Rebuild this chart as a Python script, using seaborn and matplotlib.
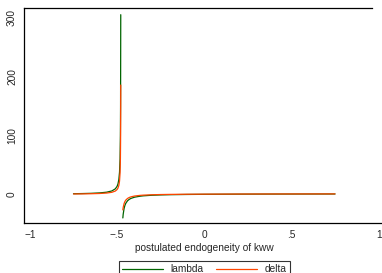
import pandas as pd
import seaborn as sns
import matplotlib.pyplot as plt

# postulated endogeneity of kww (x) and the two estimates, split at the pole
x_left = [-0.75, -0.70, -0.65, -0.60, -0.56, -0.53, -0.51, -0.50, -0.495,
          -0.49, -0.486, -0.483, -0.481, -0.480, -0.479]
x_right = [-0.467, -0.465, -0.46, -0.455, -0.45, -0.44, -0.43, -0.42, -0.40,
           -0.37, -0.35, -0.30, -0.25, -0.20, -0.10, 0.0, 0.20, 0.40, 0.60, 0.75]

lambda_left = [1.1, 1.35, 1.74, 2.46, 3.66, 5.77, 9.4, 13.6, 17.6,
               25, 37.5, 60, 100, 150, 304]
lambda_right = [-39.9, -33.6, -24, -18.6, -15.1, -10.8, -8.4, -6.8, -4.8,
                -3.2, -2.5, -1.5, -0.97, -0.6, -0.19, 0.06, 0.34, 0.49, 0.58, 0.63]

delta_left = [0.66, 0.81, 1.05, 1.48, 2.2, 3.46, 5.6, 8.2, 10.6,
              15, 22.5, 36, 60, 90, 185]
delta_right = [-26.3, -22.1, -15.7, -12.0, -9.7, -6.9, -5.25, -4.17, -2.85,
               -1.78, -1.34, -0.69, -0.31, -0.08, 0.21, 0.37, 0.56, 0.66, 0.72, 0.76]

rows = []
for name, left, right in [("lambda", lambda_left, lambda_right),
                          ("delta", delta_left, delta_right)]:
    for xv, yv in zip(x_left, left):
        rows.append((name, "left", xv, yv))
    for xv, yv in zip(x_right, right):
        rows.append((name, "right", xv, yv))
df = pd.DataFrame(rows, columns=["series", "branch", "x", "y"])

sns.set_style("white")
plt.rcParams['font.family'] = ['Liberation Sans', 'DejaVu Sans']

fig = plt.figure(figsize=(3.82, 2.73), dpi=100)
ax = fig.add_axes([0.0628, 0.182, 0.942, 0.788])

sns.lineplot(data=df, x="x", y="y", hue="series", units="branch",
             estimator=None, sort=False, linewidth=0.9,
             palette={"lambda": "#006400", "delta": "#FF4500"},
             legend=False, ax=ax)

ax.set_xlim(-1.034, 1.030)
ax.set_ylim(-49, 315)
ax.set_xticks([-1, -0.5, 0, 0.5, 1])
ax.set_xticklabels(["\u22121", "\u2212.5", "0", ".5", "1"])
ax.set_yticks([0, 100, 200, 300])
ax.set_yticklabels(["0", "100", "200", "300"], rotation=90, va="center")
ax.tick_params(axis="both", direction="out", length=3, width=0.8,
               labelsize=7.3, pad=2, color="black")
ax.set_xlabel("postulated endogeneity of kww", fontsize=7.3, labelpad=2)
ax.set_ylabel("")
for sp in ax.spines.values():
    sp.set_color("black")
    sp.set_linewidth(0.9)
# plot region outline stops short of the right edge, no right border
ax.spines["right"].set_visible(False)
ax.spines["top"].set_bounds(-1.034, 0.964)

handles = [plt.Line2D([], [], color="#006400", lw=0.9),
           plt.Line2D([], [], color="#FF4500", lw=0.9)]
leg = fig.legend(handles, ["lambda", "delta"], loc="upper center",
                 bbox_to_anchor=(0.535, 0.062), ncol=2, fontsize=7.3,
                 handlelength=4, columnspacing=1.2, frameon=True,
                 fancybox=False, borderpad=0.3)
leg.get_frame().set_edgecolor("black")
leg.get_frame().set_linewidth(0.8)

fig.savefig("out.png", dpi=100)
plt.close()
